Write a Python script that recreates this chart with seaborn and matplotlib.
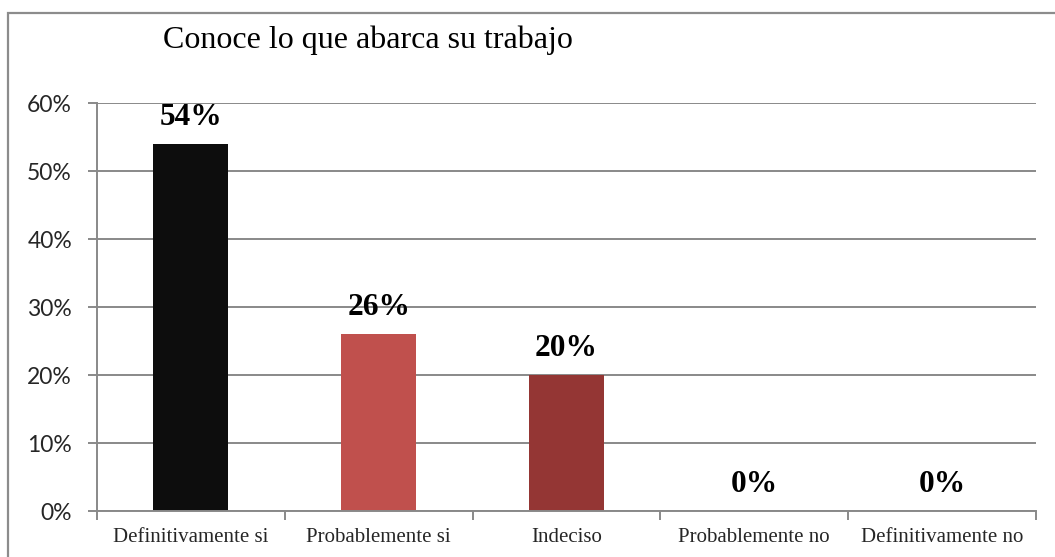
import seaborn as sns
import pandas as pd
import matplotlib.pyplot as plt
from matplotlib.patches import Rectangle
from matplotlib.ticker import PercentFormatter

# Chart data
categories = ["Definitivamente si", "Probablemente si", "Indeciso",
              "Probablemente no", "Definitivamente no"]
values = [0.54, 0.26, 0.20, 0.0, 0.0]
bar_colors = ["#0D0D0D", "#C0504D", "#943634", "#4F81BD", "#4F81BD"]
title = "Conoce lo que abarca su trabajo"

df = pd.DataFrame({"respuesta": categories, "porcentaje": values})

sns.set_style("white")
grid_col = "#898989"

fig = plt.figure(figsize=(10.55, 5.57), dpi=100)
ax = fig.add_axes([97 / 1055, 1 - 511 / 557, (1036 - 97) / 1055, (511 - 103) / 557])

sns.barplot(data=df, x="respuesta", y="porcentaje", hue="respuesta",
            palette=bar_colors, width=0.4, legend=False, ax=ax, saturation=1,
            linewidth=0)

ax.set_xlim(-0.5, len(categories) - 0.5)
ax.set_ylim(0, 0.6)
ax.set_yticks([0, 0.1, 0.2, 0.3, 0.4, 0.5, 0.6])
ax.yaxis.set_major_formatter(PercentFormatter(1.0, decimals=0))
ax.set_xlabel("")
ax.set_ylabel("")

# gridlines behind bars
ax.set_axisbelow(True)
ax.yaxis.grid(True, color=grid_col, linewidth=1.4)
ax.xaxis.grid(False)

for side in ["top", "right"]:
    ax.spines[side].set_visible(False)
for side in ["left", "bottom"]:
    ax.spines[side].set_color(grid_col)
    ax.spines[side].set_linewidth(1.4)

# tick labels
ax.tick_params(axis="y", length=6.5, width=1.4, color=grid_col, pad=11.5,
               labelsize=16.5, left=True)
for lab in ax.get_yticklabels():
    lab.set_family("Lato")
ax.tick_params(axis="x", which="major", length=0, pad=12, labelsize=15)
for lab in ax.get_xticklabels():
    lab.set_family("Liberation Serif")
ax.set_xticks([i - 0.5 for i in range(len(categories) + 1)], minor=True)
ax.tick_params(axis="x", which="minor", length=6.5, width=1.4, color=grid_col,
               bottom=True)

# data labels
for i, v in enumerate(values):
    ax.annotate(f"{v:.0%}", (i, v), xytext=(0, 13.5), textcoords="offset points",
                ha="center", va="baseline", fontsize=22.6, fontweight="bold",
                family="Liberation Serif", color="black")

# title
fig.text(163 / 1055, 1 - 48 / 557, title, ha="left", va="baseline",
         fontsize=23, family="Liberation Serif", color="black")

# chart-area border (runs off right and bottom edges)
fig.patches.append(Rectangle((8 / 1055, -0.1), 1.2, 1.1 - 13 / 557,
                             transform=fig.transFigure, fill=False,
                             edgecolor="#8C8C8C", linewidth=1.6))

fig.savefig("out.png", dpi=100)
